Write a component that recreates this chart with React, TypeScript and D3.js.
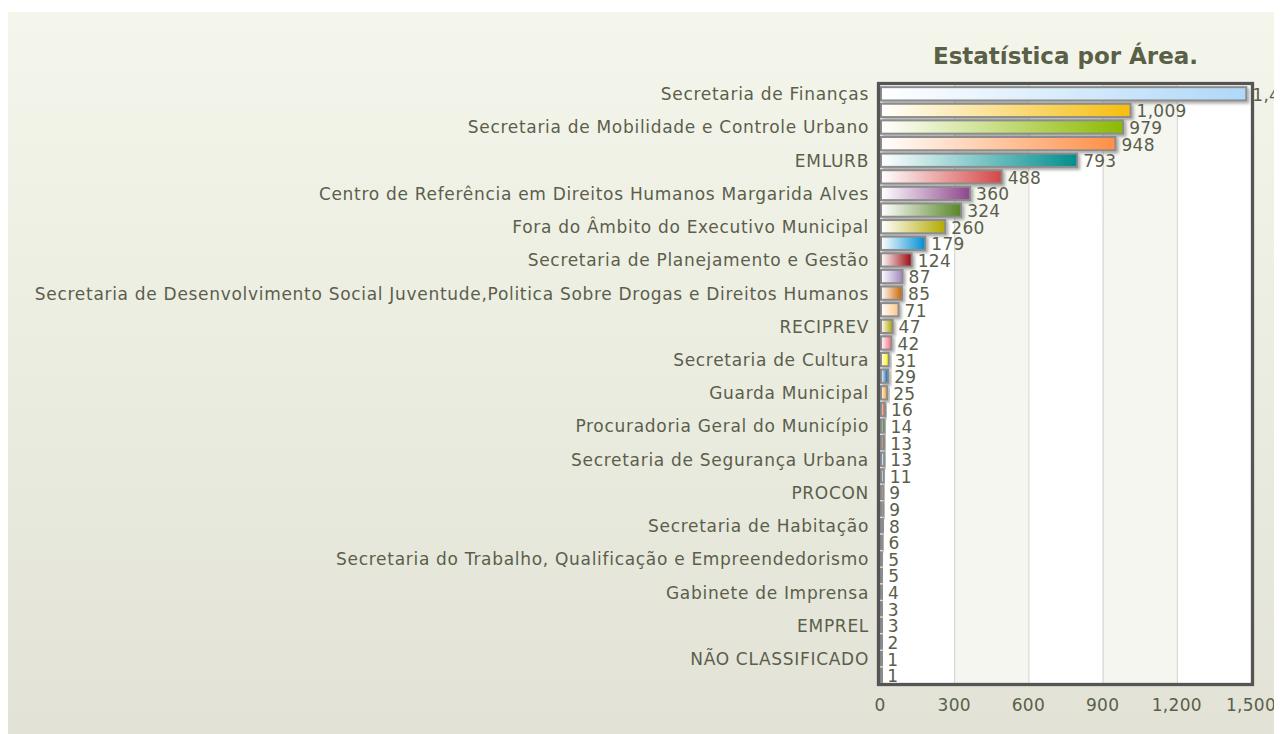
import React from 'react';
import * as d3 from 'd3';

// category names (FusionCharts shows every second label; hidden ones are unknown)
const categories: string[] = [
  'Secretaria de Finanças', '',
  'Secretaria de Mobilidade e Controle Urbano', '',
  'EMLURB', '',
  'Centro de Referência em Direitos Humanos Margarida Alves', '',
  'Fora do Âmbito do Executivo Municipal', '',
  'Secretaria de Planejamento e Gestão', '',
  'Secretaria de Desenvolvimento Social Juventude,Politica Sobre Drogas e Direitos Humanos', '',
  'RECIPREV', '',
  'Secretaria de Cultura', '',
  'Guarda Municipal', '',
  'Procuradoria Geral do Município', '',
  'Secretaria de Segurança Urbana', '',
  'PROCON', '',
  'Secretaria de Habitação', '',
  'Secretaria do Trabalho, Qualificação e Empreendedorismo', '',
  'Gabinete de Imprensa', '',
  'EMPREL', '',
  'NÃO CLASSIFICADO', '',
];

const values: number[] = [
  1477, 1009, 979, 948, 793, 488, 360, 324, 260, 179, 124, 87, 85, 71, 47, 42, 31, 29,
  25, 16, 14, 13, 13, 11, 9, 9, 8, 6, 5, 5, 4, 3, 3, 2, 1, 1,
];

const xTicks: number[] = [0, 300, 600, 900, 1200, 1500];

const palette: string[] = [
  '#AFD8F8', '#F6BD0F', '#8BBA00', '#FF8E46', '#008E8E', '#D64646', '#8E468E', '#588526',
  '#B3AA00', '#008ED6', '#9D080D', '#A186BE', '#CC6600', '#FDC689', '#ABA000', '#F26D7D',
  '#FFF200', '#0054A6', '#F7941C', '#CC3300', '#006600', '#663300', '#6DCFF6',
];

const W = 1274;
const H = 722;
const textColor = '#5b5e4c';
const font = '"DejaVu Sans", Verdana, sans-serif';

export default function App() {
  // svg origin is at page (8,12)
  const plot = { left: 872, right: 1243, top: 73, bottom: 671 };

  const x = d3.scaleLinear().domain([0, 1500]).range([plot.left, plot.right]);
  const y = d3
    .scaleBand<number>()
    .domain(d3.range(values.length))
    .range([plot.top, plot.bottom])
    .paddingInner(0.2)
    .paddingOuter(0.1);

  const bands = d3.pairs(xTicks);
  const fmt = d3.format(',');

  return (
    <svg width={W} height={H} style={{ display: 'block', marginTop: 4 }} fontFamily={font}>
      <defs>
        <linearGradient id="bg" x1="0" y1="0" x2="0" y2="1">
          <stop offset="0" stopColor="#f5f6eb" />
          <stop offset="1" stopColor="#e2e3d6" />
        </linearGradient>
        {values.map((_, i) => (
          <linearGradient key={i} id={`g${i}`} x1="0" y1="0" x2="1" y2="0">
            <stop offset="0" stopColor="#ffffff" />
            <stop offset="1" stopColor={palette[i % palette.length]} />
          </linearGradient>
        ))}
        <filter id="shadow" x="-20%" y="-40%" width="160%" height="200%">
          <feDropShadow dx="2" dy="2" stdDeviation="1.5" floodColor="#000" floodOpacity="0.35" />
        </filter>
      </defs>

      <rect width={W} height={H} fill="url(#bg)" />

      <text
        x={(plot.left + plot.right) / 2}
        y={51.5}
        textAnchor="middle"
        fontSize={23}
        fontWeight="bold"
        fill="#5a5f48"
      >
        Estatística por Área.
      </text>

      {/* plot background with alternating bands */}
      {bands.map(([a, b], i) => (
        <rect
          key={i}
          x={x(a)}
          y={plot.top}
          width={x(b) - x(a)}
          height={plot.bottom - plot.top}
          fill={i % 2 === 0 ? '#ffffff' : '#f5f6f0'}
        />
      ))}
      {xTicks.slice(1, -1).map((t) => (
        <line
          key={t}
          x1={x(t) + 0.5}
          x2={x(t) + 0.5}
          y1={plot.top}
          y2={plot.bottom}
          stroke="#d3d4ca"
          strokeWidth={1}
        />
      ))}

      {/* bars */}
      {values.map((v, i) => {
        const w = Math.max(x(v) - x(0), 1);
        return (
          <rect
            key={i}
            x={x(0) + 1}
            y={(y(i) as number) + 0.5}
            width={w}
            height={y.bandwidth()}
            fill={`url(#g${i})`}
            stroke="#8c8c8c"
            strokeWidth={2}
            filter="url(#shadow)"
          />
        );
      })}

      {/* frame */}
      <rect
        x={plot.left - 1.5}
        y={plot.top - 1.5}
        width={plot.right - plot.left + 3}
        height={plot.bottom - plot.top + 3}
        fill="none"
        stroke="#555555"
        strokeWidth={3.3}
      />

      {/* value labels */}
      {values.map((v, i) => (
        <text
          key={i}
          x={x(v) + 7}
          y={(y(i) as number) + y.bandwidth() / 2 + 1.5}
          dy="0.35em"
          fontSize={17}
          letterSpacing={0.3}
          fill={textColor}
        >
          {fmt(v)}
        </text>
      ))}

      {/* category labels */}
      {categories.map((c, i) =>
        c ? (
          <text
            key={i}
            x={plot.left - 11}
            y={(y(i) as number) + y.bandwidth() / 2 + 1}
            dy="0.35em"
            textAnchor="end"
            fontSize={17}
            letterSpacing={0.7}
            fill={textColor}
          >
            {c}
          </text>
        ) : null
      )}

      {/* x axis labels */}
      {xTicks.map((t) => (
        <text
          key={t}
          x={x(t)}
          y={plot.bottom + 22}
          dy="0.35em"
          textAnchor="middle"
          fontSize={17}
          letterSpacing={0.3}
          fill={textColor}
        >
          {fmt(t)}
        </text>
      ))}
    </svg>
  );
}
